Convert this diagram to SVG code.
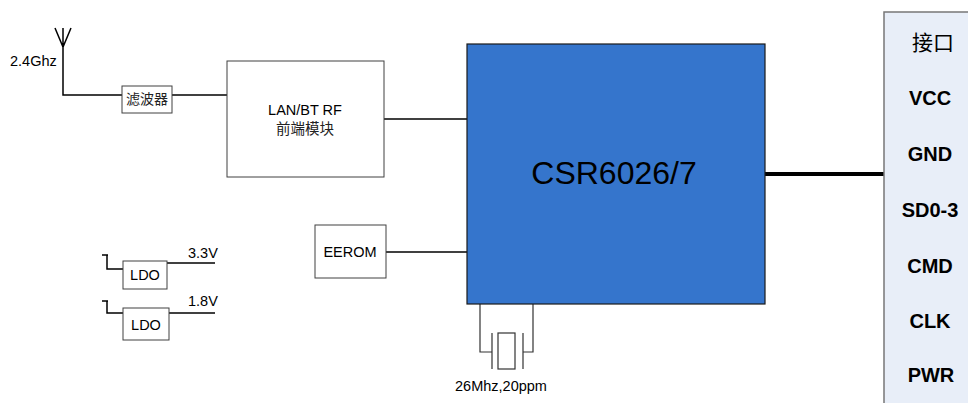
<svg xmlns="http://www.w3.org/2000/svg" width="968" height="403" viewBox="0 0 968 403">
<style>
.box{fill:#fff;stroke:#404040;stroke-width:1}
.w{stroke:#000;stroke-width:1.5;fill:none}
.t{font-family:"Liberation Sans",Arial,sans-serif;fill:#000}
.cjk{font-family:"Noto Sans CJK SC","Liberation Serif",serif;fill:#222}
.pin{font-family:"Liberation Sans",Arial,sans-serif;font-weight:bold;font-size:20px;text-anchor:middle;fill:#000}
</style>
<rect width="968" height="403" fill="#fff"/>
<g id="connectors">
<path class="w" d="M55,28 L63,47 L71,28 M63,28 V95 H122"/>
<path class="w" d="M172,95 H228"/>
<path class="w" d="M384,119 H467"/>
<path class="w" d="M386,252 H467"/>
<path d="M764,174 H886" stroke="#000" stroke-width="4"/>
<path class="w" d="M102,255 H108 M107,255 V269 H123"/>
<path class="w" d="M167,263 H215"/>
<path class="w" d="M102,301 H108 M107,301 V313 H123"/>
<path class="w" d="M169,313 H215"/>
<path d="M480,304 V352 H492 M533,304 V352 H523" stroke="#333" stroke-width="1.2" fill="none"/>
</g>
<g id="antenna">
<text class="t" x="10" y="66" font-size="14.5">2.4Ghz</text>
</g>
<g id="filter">
<rect class="box" x="122" y="86" width="50" height="27"/>
<text class="cjk" x="147" y="104" font-size="14" text-anchor="middle">滤波器</text>
</g>
<g id="rf">
<rect class="box" x="227" y="61" width="157" height="116"/>
<text class="t" x="305" y="115" font-size="14.5" text-anchor="middle">LAN/BT RF</text>
<text class="cjk" x="305" y="134" font-size="14.5" text-anchor="middle" fill="#444">前端模块</text>
</g>
<g id="eerom">
<rect class="box" x="315" y="225" width="71" height="53"/>
<text class="t" x="350" y="257" font-size="14.5" text-anchor="middle">EEROM</text>
</g>
<g id="ldo1">
<rect class="box" x="123" y="261" width="44" height="28"/>
<text class="t" x="145" y="280" font-size="14.5" text-anchor="middle">LDO</text>
<text class="t" x="188" y="258" font-size="14.5">3.3V</text>
</g>
<g id="ldo2">
<rect class="box" x="123" y="308" width="46" height="32"/>
<text class="t" x="146" y="330" font-size="14.5" text-anchor="middle">LDO</text>
<text class="t" x="188" y="306" font-size="14.5">1.8V</text>
</g>
<g id="csr">
<rect x="467" y="44" width="298" height="260" fill="#3575CC" stroke="#1a1a1a" stroke-width="1.2"/>
<text class="t" x="614" y="184" font-size="32" text-anchor="middle">CSR6026/7</text>
</g>
<g id="crystal">
<path d="M492,333 V369 M523,333 V369" stroke="#333" stroke-width="1.2"/>
<rect x="498" y="333" width="17" height="36" fill="#fff" stroke="#333" stroke-width="1.2"/>
<text class="t" x="501" y="391" font-size="14.5" text-anchor="middle">26Mhz,20ppm</text>
</g>
<g id="interface">
<rect x="884" y="12" width="90" height="400" fill="#E8EEF8" stroke="#777" stroke-width="1.5"/>
<text x="933" y="50" font-size="21" text-anchor="middle" font-family="Noto Sans CJK SC,serif" fill="#000">接口</text>
<text class="pin" x="930" y="105">VCC</text>
<text class="pin" x="930" y="161">GND</text>
<text class="pin" x="930" y="217">SD0-3</text>
<text class="pin" x="930" y="273">CMD</text>
<text class="pin" x="930" y="328">CLK</text>
<text class="pin" x="931" y="382">PWR</text>
</g>
</svg>
